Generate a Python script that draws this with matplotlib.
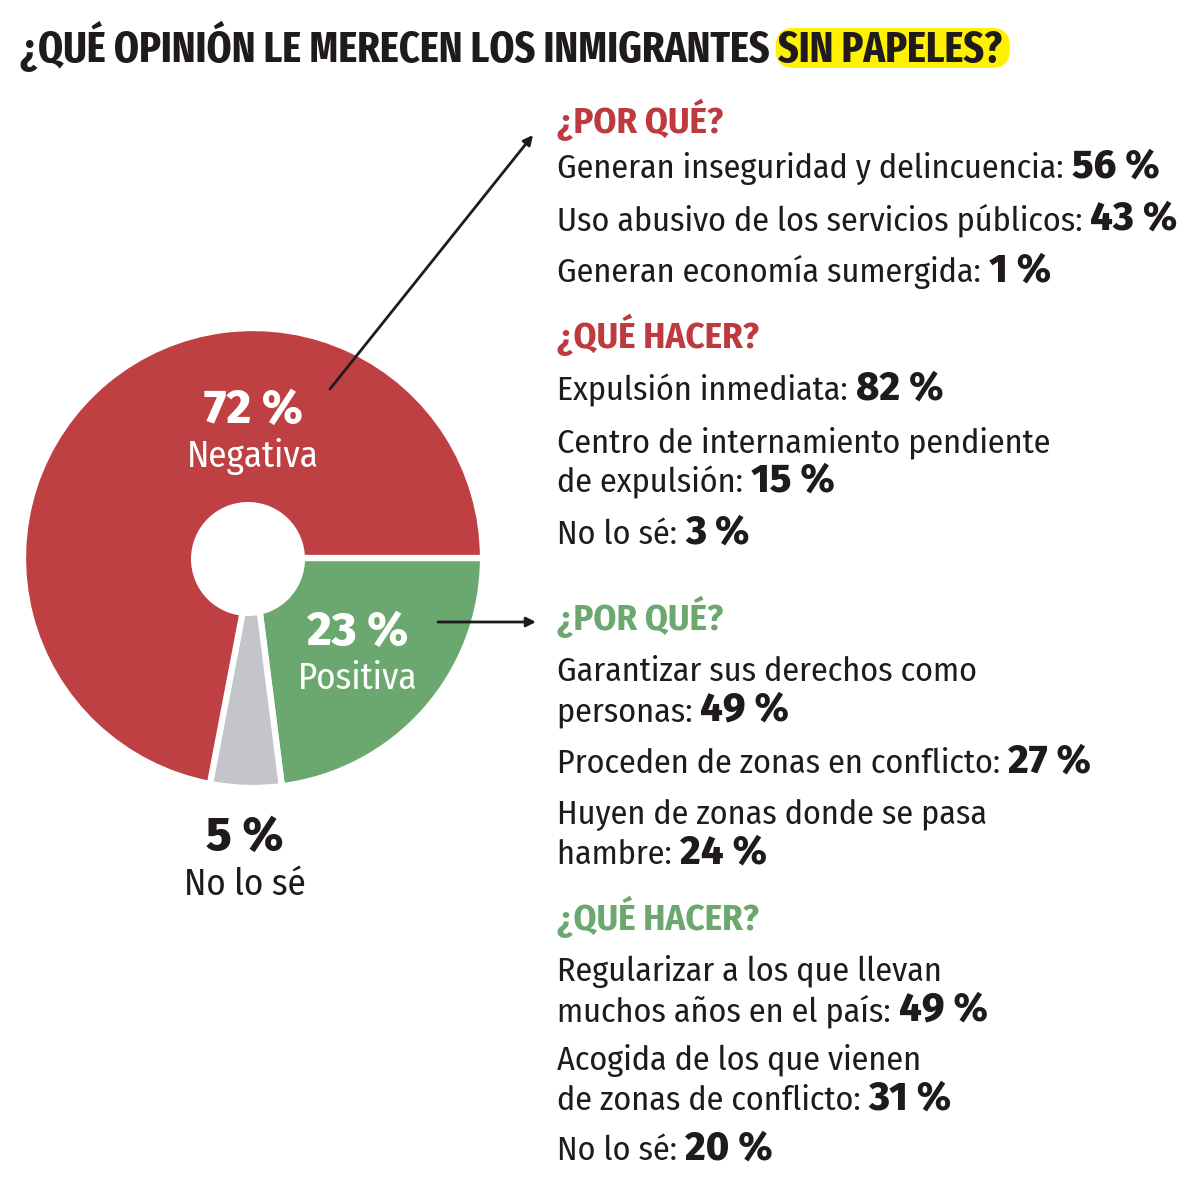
import matplotlib
matplotlib.use("Agg")
import matplotlib.pyplot as plt
from matplotlib.patches import Circle, FancyBboxPatch

# ===============================
# Datos
# ===============================
opinion_labels = ["Positiva", "No lo sé", "Negativa"]
opinion_values = [23, 5, 72]
opinion_colors = ["#6aa86f", "#c3c5ca", "#bf4042"]

titulo = "¿QUÉ OPINIÓN LE MERECEN LOS INMIGRANTES "
titulo_resaltado = "SIN PAPELES?"

neg_porque = [("Generan inseguridad y delincuencia:", 56),
              ("Uso abusivo de los servicios públicos:", 43),
              ("Generan economía sumergida:", 1)]
neg_hacer = [("Expulsión inmediata:", 82),
             ("Centro de internamiento pendiente\nde expulsión:", 15),
             ("No lo sé:", 3)]
pos_porque = [("Garantizar sus derechos como\npersonas:", 49),
              ("Proceden de zonas en conflicto:", 27),
              ("Huyen de zonas donde se pasa\nhambre:", 24)]
pos_hacer = [("Regularizar a los que llevan\nmuchos años en el país:", 49),
             ("Acogida de los que vienen\nde zonas de conflicto:", 31),
             ("No lo sé:", 20)]

ROJO = "#bf3a3f"
VERDE = "#6aa86f"
NEGRO = "#1f1a1b"

FAM = ["Fira Sans Condensed", "Barlow Semi Condensed", "DejaVu Sans"]
FAM_N = ["Fira Sans", "DejaVu Sans"]
FAM_T = ["Fira Sans Extra Condensed", "Fira Sans Condensed", "Barlow Condensed", "DejaVu Sans"]
plt.rcParams["font.family"] = FAM

TXT = 24.5     # texto normal
NUM = 28.5     # cifras en negrita
W, H = 1198, 1190
fig = plt.figure(figsize=(W / 100, H / 100), dpi=100)

# ===============================
# Tarta (primero, para quedar debajo)
# ===============================
cx, cy, R = 253, 558, 230
pax = fig.add_axes([(cx - R) / W, 1 - (cy + R) / H, 2 * R / W, 2 * R / H])
pax.pie(opinion_values, colors=opinion_colors, startangle=0, counterclock=False,
        radius=1, wedgeprops=dict(edgecolor="white", linewidth=4.5))
pax.add_patch(Circle((-5 / R, -1 / R), 57 / R, fc="white", ec="none", zorder=5))
pax.set_xlim(-1, 1)
pax.set_ylim(-1, 1)
pax.axis("off")

ax = fig.add_axes([0, 0, 1, 1])
ax.set_zorder(3)
ax.patch.set_alpha(0)
ax.set_xlim(0, W)
ax.set_ylim(H, 0)
ax.axis("off")
renderer = fig.canvas.get_renderer()


def ancho(t):
    bb = t.get_window_extent(renderer)
    inv = ax.transData.inverted()
    x0 = inv.transform((bb.x0, bb.y0))[0]
    x1 = inv.transform((bb.x1, bb.y0))[0]
    return x1 - x0


def linea(x, y, texto, valor):
    t = ax.text(x, y, texto + " ", fontsize=TXT, color=NEGRO, va="baseline", ha="left")
    ax.text(x + ancho(t), y, f"{valor} %", fontsize=NUM, color=NEGRO,
            va="baseline", ha="left", fontweight="heavy", family=FAM_N)


# ===============================
# Titulo con resaltado
# ===============================
t1 = ax.text(20, 62, titulo, fontsize=31.4, fontweight="bold", color=NEGRO,
             va="baseline", ha="left", family=FAM_T)
x2 = 20 + ancho(t1)
t2 = ax.text(x2, 62, titulo_resaltado, fontsize=31.4, fontweight="bold", color=NEGRO,
             va="baseline", ha="left", family=FAM_T, zorder=3)
w2 = ancho(t2)
ax.add_patch(FancyBboxPatch((x2 - 2, 28), w2 + 10, 40,
                            boxstyle="round,pad=0,rounding_size=18",
                            fc="#fff200", ec="none", zorder=2))

# etiquetas de la tarta
ax.text(253, 423, f"{opinion_values[2]} %", fontsize=34, fontweight="heavy",
        color="white", ha="center", va="baseline", family=FAM_N)
ax.text(253, 467, opinion_labels[2], fontsize=26.5, color="white",
        ha="center", va="baseline")
ax.text(358, 645, f"{opinion_values[0]} %", fontsize=34, fontweight="heavy",
        color="white", ha="center", va="baseline", family=FAM_N)
ax.text(358, 689, opinion_labels[0], fontsize=26.5, color="white",
        ha="center", va="baseline")
ax.text(245, 850, f"{opinion_values[1]} %", fontsize=34, fontweight="heavy",
        color=NEGRO, ha="center", va="baseline", family=FAM_N)
ax.text(245, 895, opinion_labels[1], fontsize=26.5, color=NEGRO,
        ha="center", va="baseline")

# flechas
ax.annotate("", xy=(533, 135), xytext=(330, 389),
            arrowprops=dict(arrowstyle="-|>", color=NEGRO, lw=2, mutation_scale=14,
                            shrinkA=0, shrinkB=0))
ax.annotate("", xy=(536, 622), xytext=(438, 622),
            arrowprops=dict(arrowstyle="-|>", color=NEGRO, lw=2, mutation_scale=14,
                            shrinkA=0, shrinkB=0))

# ===============================
# Columna derecha
# ===============================
X = 557


def bloque(y0, cabecera, color, items, ys):
    ax.text(X, y0, cabecera, fontsize=26.5, fontweight="bold", color=color,
            va="baseline", ha="left")
    for (txt, val), y in zip(items, ys):
        partes = txt.split("\n")
        for k, p in enumerate(partes[:-1]):
            ax.text(X, y + 40 * k, p, fontsize=TXT, color=NEGRO, va="baseline", ha="left")
        linea(X, y + 40 * (len(partes) - 1), partes[-1], val)


bloque(133, "¿POR QUÉ?", ROJO, neg_porque, [178, 230, 282])
bloque(348, "¿QUÉ HACER?", ROJO, neg_hacer, [400, 452, 544])
bloque(630, "¿POR QUÉ?", VERDE, pos_porque, [681, 773, 824])
bloque(930, "¿QUÉ HACER?", VERDE, pos_hacer, [981, 1070, 1160])

fig.savefig("out.png", dpi=100)
